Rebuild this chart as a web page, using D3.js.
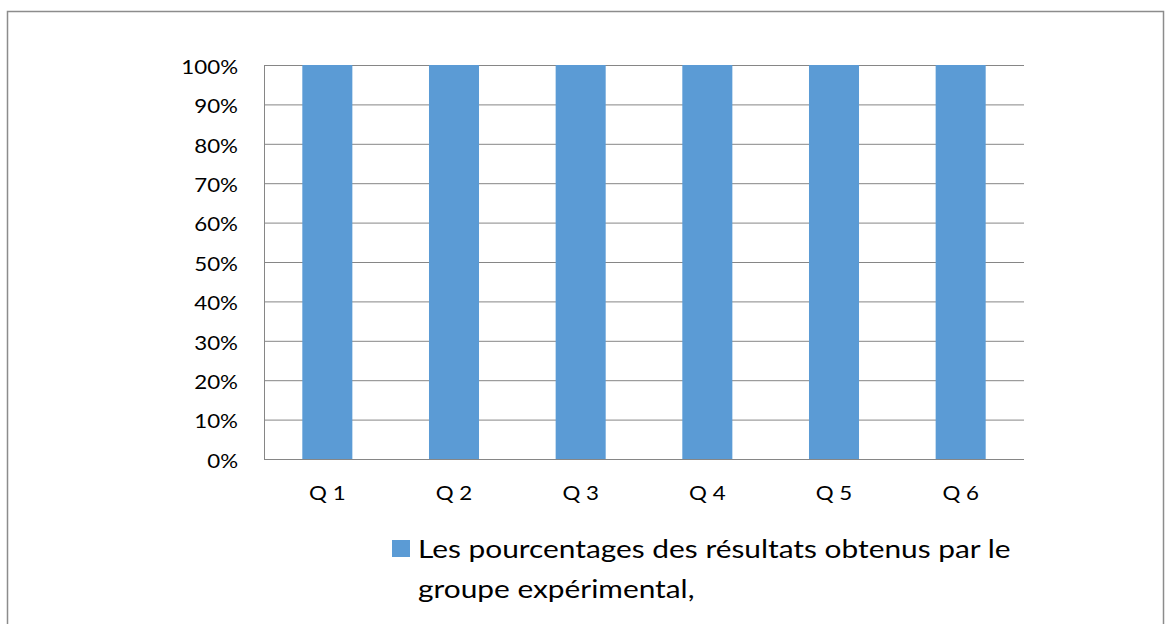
<!DOCTYPE html>
<html>
<head>
<meta charset="utf-8">
<script src="https://cdn.jsdelivr.net/npm/d3@7"></script>
<style>
  body { margin: 0; background: #fff; }
  text { font-family: Lato, "Open Sans", sans-serif; fill: #000; }
</style>
</head>
<body>
<div id="chart"></div>
<script>
var categories = ["Q 1", "Q 2", "Q 3", "Q 4", "Q 5", "Q 6"];
var values = [1, 1, 1, 1, 1, 1];
var yTicks = [0, 0.1, 0.2, 0.3, 0.4, 0.5, 0.6, 0.7, 0.8, 0.9, 1];
var legendLines = ["Les pourcentages des résultats obtenus par le", "groupe expérimental,"];

var W = 1170, H = 624;
var margin = {top: 65, right: 146, bottom: 165, left: 264};
var width = W - margin.left - margin.right;
var height = H - margin.top - margin.bottom;
var stretch = 1.18; // text in the picture is a bit wider than usual

var svg = d3.select("#chart").append("svg")
    .attr("width", W)
    .attr("height", H);

// outer frame
svg.append("rect")
    .attr("x", 7.5).attr("y", 11.5)
    .attr("width", 1156).attr("height", 640)
    .attr("fill", "none")
    .attr("stroke", "#8c8c8c")
    .attr("stroke-width", 1.5);

var g = svg.append("g")
    .attr("transform", "translate(" + margin.left + "," + margin.top + ")");

var xScale = d3.scaleBand().domain(categories).range([0, width]).paddingInner(0.605).paddingOuter(0.3025);
var yScale = d3.scaleLinear().domain([0, 1]).range([height, 0]);

// grid lines
var yGrid = d3.axisLeft(yScale).tickValues(yTicks).tickSize(-width).tickFormat("");
g.append("g").call(yGrid)
    .call(function(s) { s.select(".domain").remove(); })
    .selectAll("line").attr("stroke", "#868686");

// left border of plot
g.append("line")
    .attr("x1", 0.5).attr("x2", 0.5).attr("y1", 0).attr("y2", height)
    .attr("stroke", "#868686");

// bars
g.selectAll(".bar").data(values).enter().append("rect")
    .attr("class", "bar")
    .attr("x", function(d, i) { return xScale(categories[i]); })
    .attr("y", function(d) { return yScale(d); })
    .attr("width", xScale.bandwidth())
    .attr("height", function(d) { return height - yScale(d); })
    .attr("fill", "#5b9bd5");

// y labels
var yAxis = d3.axisLeft(yScale).tickValues(yTicks).tickSize(0)
    .tickFormat(d3.format(".0%"));
g.append("g").call(yAxis)
    .call(function(s) { s.select(".domain").remove(); })
    .selectAll("text")
    .attr("x", 0)
    .attr("dy", "0.44em")
    .attr("transform", "translate(-26,0) scale(" + stretch + ",1)")
    .style("font-size", "18.9px")
    .style("font-family", "Lato, 'Open Sans', sans-serif");

// x labels
var xAxis = d3.axisBottom(xScale).tickSize(0).tickPadding(27.5);
g.append("g").attr("transform", "translate(0," + height + ")").call(xAxis)
    .call(function(s) { s.select(".domain").remove(); })
    .selectAll("text")
    .attr("transform", "scale(" + stretch + ",1)")
    .style("font-size", "18.9px")
    .style("font-family", "Lato, 'Open Sans', sans-serif");

// legend
svg.append("rect")
    .attr("x", 392).attr("y", 540)
    .attr("width", 18).attr("height", 17)
    .attr("fill", "#5b9bd5");

svg.selectAll(".leg").data(legendLines).enter().append("text")
    .attr("class", "leg")
    .attr("transform", function(d, i) {
        return "translate(418," + (558 + i * 40) + ") scale(" + stretch + ",1)";
    })
    .style("font-size", "25.3px")
    .text(function(d) { return d; });
</script>
</body>
</html>
